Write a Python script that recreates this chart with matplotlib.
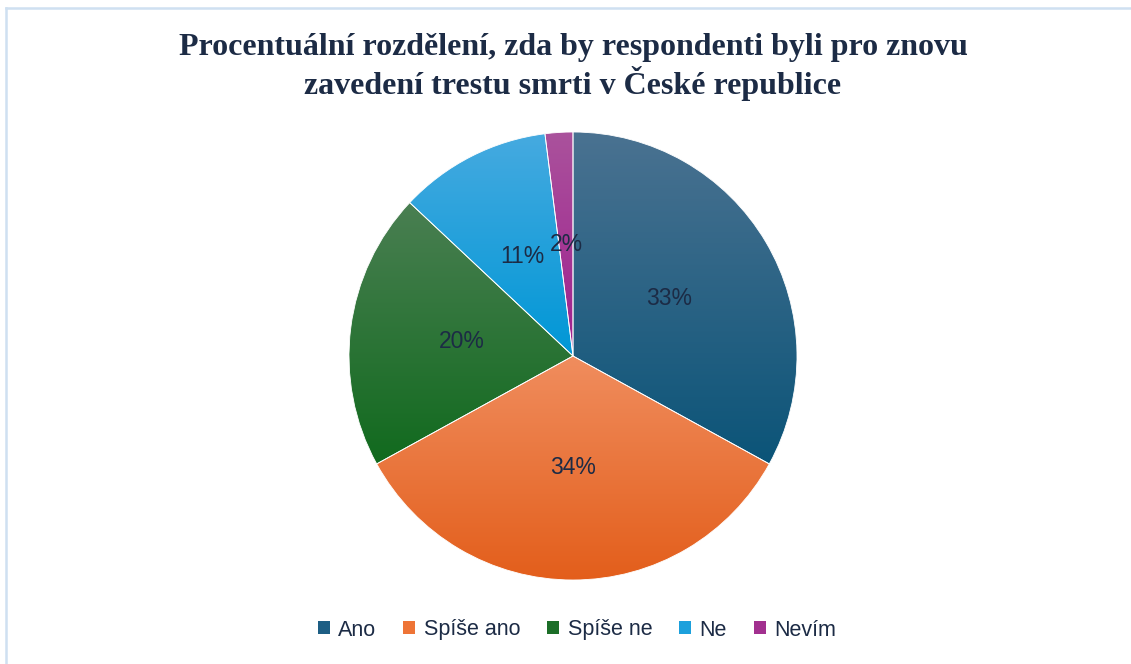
import matplotlib
matplotlib.use("Agg")
from matplotlib import pyplot as plt
from matplotlib.colors import LinearSegmentedColormap
from matplotlib.patches import Patch
import numpy as np

categories = ["Ano", "Spíše ano", "Spíše ne", "Ne", "Nevím"]
values = [33, 34, 20, 11, 2]
labels = ["33%", "34%", "20%", "11%", "2%"]

# (top, bottom) gradient colours per slice
grad_colors = [
    ("#4A7291", "#0B5478"),
    ("#F08D5E", "#E35E1B"),
    ("#4A7F52", "#116A1E"),
    ("#46AAE0", "#0097D6"),
    ("#AA529C", "#9F1F8E"),
]
legend_colors = ["#1D5E84", "#EE7436", "#1C6E28", "#1CA0DC", "#A2308F"]

text_color = "#1C2B45"

fig = plt.figure(figsize=(11.31, 6.64), dpi=100)
W, H = 1131, 664

# light frame
fig.add_artist(plt.Line2D([6 / W, 1.0], [1 - 8 / H, 1 - 8 / H], color="#CFE0F1", lw=1.8))
fig.add_artist(plt.Line2D([6 / W, 6 / W], [0.0, 1 - 8 / H], color="#CFE0F1", lw=1.8))

fig.text(573 / W, 1 - 67 / H,
         "Procentuální rozdělení, zda by respondenti byli pro znovu\nzavedení trestu smrti v České republice",
         ha="center", va="center", fontsize=23, fontweight="bold",
         family="Liberation Serif", color=text_color, linespacing=1.15)

cx, cy, r = 573, 356, 224
ax = fig.add_axes([(cx - r) / W, (H - cy - r) / H, 2 * r / W, 2 * r / H])
wedges, texts = ax.pie(values, labels=labels, startangle=90, counterclock=False,
                       labeldistance=0.5, radius=1,
                       wedgeprops=dict(linewidth=0.6, edgecolor="white"),
                       textprops=dict(fontsize=16.5, family="Liberation Sans",
                                      color=text_color, ha="center", va="center"))

grad = np.linspace(1, 0, 256).reshape(-1, 1)
for w, (top, bot) in zip(wedges, grad_colors):
    w.set_facecolor("none")
    verts = w.get_path().vertices
    x0, x1 = verts[:, 0].min(), verts[:, 0].max()
    y0, y1 = verts[:, 1].min(), verts[:, 1].max()
    cmap = LinearSegmentedColormap.from_list("g", [bot, top])
    im = ax.imshow(grad, cmap=cmap, extent=[x0, x1, y0, y1], aspect="auto",
                   origin="upper", zorder=0.5, vmin=0, vmax=1)
    im.set_clip_path(w)

for t in texts:
    t.set_zorder(3)

ax.set_xlim(-1, 1)
ax.set_ylim(-1, 1)
ax.set_aspect("auto")
ax.axis("off")

handles = [Patch(facecolor=c, edgecolor="none") for c in legend_colors]
fig.legend(handles, categories, loc="center", bbox_to_anchor=(577 / W, 1 - 630 / H),
           ncol=5, frameon=False, handlelength=0.55, handleheight=0.55,
           handletextpad=0.4, columnspacing=1.25,
           prop=dict(family="Liberation Sans", size=15.5), labelcolor=text_color)

fig.savefig("out.png", dpi=100, facecolor="white")
